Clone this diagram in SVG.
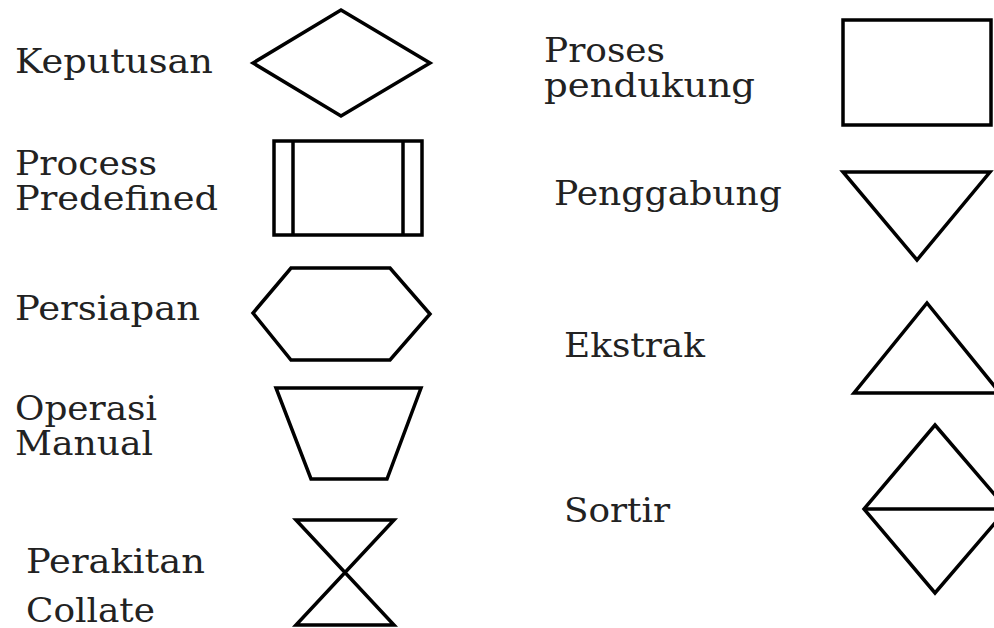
<svg xmlns="http://www.w3.org/2000/svg" width="994" height="628" viewBox="0 0 994 628">
<style>
.s{fill:none;stroke:#000;stroke-width:3.5;stroke-linejoin:miter}
.t{font-family:"DejaVu Serif","Liberation Serif",serif;font-size:34px;fill:#222}
</style>
<rect width="994" height="628" fill="#fff"/>
<g id="keputusan">
<text class="t" x="15" y="73" textLength="198" lengthAdjust="spacingAndGlyphs">Keputusan</text>
<polygon class="s" points="341,10 430,63 341,116 253,63"/>
</g>
<g id="predefined">
<text class="t" x="15" y="175" textLength="142" lengthAdjust="spacingAndGlyphs">Process</text>
<text class="t" x="15" y="210" textLength="203" lengthAdjust="spacingAndGlyphs">Predefined</text>
<rect class="s" x="274" y="141" width="148" height="94"/>
<line class="s" x1="293" y1="141" x2="293" y2="235"/>
<line class="s" x1="403" y1="141" x2="403" y2="235"/>
</g>
<g id="persiapan">
<text class="t" x="15" y="320" textLength="185" lengthAdjust="spacingAndGlyphs">Persiapan</text>
<polygon class="s" points="291,268 390,268 430,314 390,360 291,360 253,313"/>
</g>
<g id="operasi">
<text class="t" x="15" y="420" textLength="142" lengthAdjust="spacingAndGlyphs">Operasi</text>
<text class="t" x="15" y="455" textLength="138" lengthAdjust="spacingAndGlyphs">Manual</text>
<polygon class="s" points="276,388 421,388 387,479 311,479"/>
</g>
<g id="perakitan">
<text class="t" x="26" y="573" textLength="179" lengthAdjust="spacingAndGlyphs">Perakitan</text>
<text class="t" x="26" y="622" textLength="129" lengthAdjust="spacingAndGlyphs">Collate</text>
<polygon class="s" points="296,520 394,520 296,625 394,625"/>
</g>
<g id="pendukung">
<text class="t" x="544" y="62" textLength="121" lengthAdjust="spacingAndGlyphs">Proses</text>
<text class="t" x="544" y="97" textLength="211" lengthAdjust="spacingAndGlyphs">pendukung</text>
<rect class="s" x="843" y="20" width="148" height="105"/>
</g>
<g id="penggabung">
<text class="t" x="554" y="205" textLength="228" lengthAdjust="spacingAndGlyphs">Penggabung</text>
<polygon class="s" points="843,172 990,172 917,260"/>
</g>
<g id="ekstrak">
<text class="t" x="564" y="357" textLength="141" lengthAdjust="spacingAndGlyphs">Ekstrak</text>
<polygon class="s" points="927,303 1000,393 854,393"/>
</g>
<g id="sortir">
<text class="t" x="564" y="522" textLength="106" lengthAdjust="spacingAndGlyphs">Sortir</text>
<polygon class="s" points="935,425 1007,509 935,593 864,509"/>
<line class="s" x1="864" y1="509" x2="994" y2="509"/>
</g>
</svg>
